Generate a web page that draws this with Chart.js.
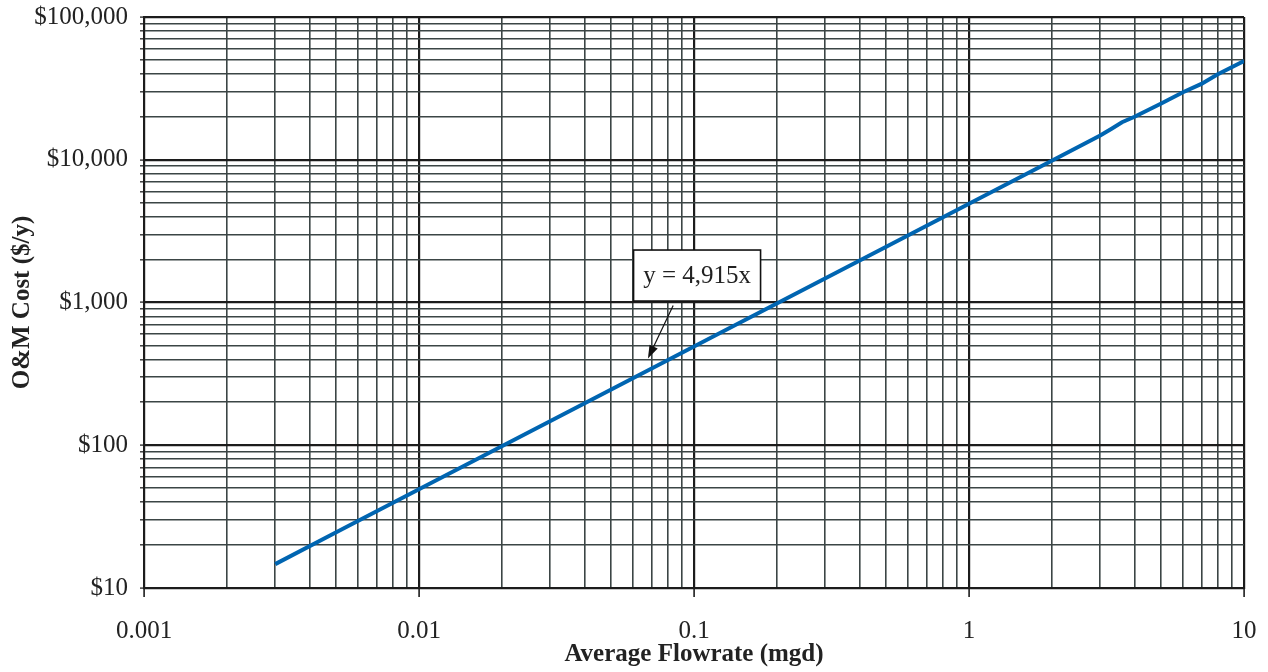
<!DOCTYPE html>
<html>
<head>
<meta charset="utf-8">
<script src="https://cdn.jsdelivr.net/npm/chart.js@4/dist/chart.umd.min.js"></script>
<style>
  body { margin: 0; background: #fff; }
  #chart { display: block; }
</style>
</head>
<body>
<canvas id="chart" width="1268" height="672"></canvas>
<script>
// Average flowrate (mgd) and O&M cost ($/y)
const flowrates = [0.003, 0.005, 0.01, 0.02, 0.05, 0.1, 0.2, 0.5, 1, 2, 3, 3.3, 3.6, 4, 5, 6, 7, 8, 10];
const omCosts = [14.7, 24.6, 49.2, 98.3, 246, 492, 983, 2458, 4915, 9830, 14800, 16500, 18300, 20000, 24800, 29700, 34000, 39500, 49150];

// Axis decades (labelled) and minor steps inside each decade
const xDecades = [0.001, 0.01, 0.1, 1, 10];
const yDecades = [10, 100, 1000, 10000, 100000];
const minorSteps = [1, 2, 3, 4, 5, 6, 7, 8, 9];

// Trend label and where its arrow points (data units)
const trendLabel = 'y = 4,915x';
const labelCenter = { x: 0.1026, y: 1545 };
const arrowFrom = { x: 0.084, y: 953 };
const arrowTo = { x: 0.068, y: 405 };

const serif = '"Liberation Serif", "Times New Roman", serif';
const minorColor = '#3b4545';
const majorColor = '#1c1c1c';

function tickValues(decades) {
    const vals = [];
    decades.forEach((d, i) => {
        if (i === decades.length - 1) { vals.push(d); return; }
        minorSteps.forEach(m => vals.push(+(d * m).toPrecision(6)));
    });
    return vals;
}

function setTicks(decades) {
    return scale => {
        scale.ticks = tickValues(decades).map(v => ({ value: v, major: decades.includes(v) }));
    };
}

const isMajor = (decades, ctx) => ctx.tick && decades.includes(ctx.tick.value);

// Text box with arrow pointing at the line
const trendNote = {
    id: 'trendNote',
    afterDraw(chart) {
        const { ctx, scales: { x, y } } = chart;
        const cx = x.getPixelForValue(labelCenter.x);
        const cy = y.getPixelForValue(labelCenter.y);
        ctx.save();
        ctx.font = '25px ' + serif;
        const w = 127, h = 51;
        ctx.fillStyle = '#fff';
        ctx.fillRect(cx - w / 2, cy - h / 2, w, h);
        ctx.strokeStyle = '#111';
        ctx.lineWidth = 1.6;
        ctx.strokeRect(cx - w / 2, cy - h / 2, w, h);
        ctx.fillStyle = '#222';
        ctx.textAlign = 'center';
        ctx.textBaseline = 'middle';
        ctx.fillText(trendLabel, cx, cy + 1);

        const x1 = x.getPixelForValue(arrowFrom.x), y1 = y.getPixelForValue(arrowFrom.y);
        const x2 = x.getPixelForValue(arrowTo.x), y2 = y.getPixelForValue(arrowTo.y);
        const ang = Math.atan2(y2 - y1, x2 - x1);
        const head = 14, spread = 0.33;
        ctx.strokeStyle = '#111';
        ctx.lineWidth = 1.2;
        ctx.beginPath();
        ctx.moveTo(x1, y1);
        ctx.lineTo(x2 - Math.cos(ang) * head * 0.8, y2 - Math.sin(ang) * head * 0.8);
        ctx.stroke();
        ctx.fillStyle = '#111';
        ctx.beginPath();
        ctx.moveTo(x2, y2);
        ctx.lineTo(x2 - head * Math.cos(ang - spread), y2 - head * Math.sin(ang - spread));
        ctx.lineTo(x2 - head * Math.cos(ang + spread), y2 - head * Math.sin(ang + spread));
        ctx.closePath();
        ctx.fill();
        ctx.restore();
    }
};

Chart.defaults.font.family = serif;
Chart.defaults.color = '#222';

new Chart(document.getElementById('chart'), {
    type: 'line',
    data: {
        datasets: [{
            data: flowrates.map((f, i) => ({ x: f, y: omCosts[i] })),
            borderColor: '#0065b1',
            borderWidth: 4,
            pointRadius: 0,
            tension: 0,
            fill: false
        }]
    },
    options: {
        responsive: false,
        animation: false,
        layout: { padding: { top: 17, right: 24, left: 0, bottom: 0 } },
        plugins: { legend: { display: false }, tooltip: { enabled: false } },
        scales: {
            x: {
                type: 'logarithmic',
                min: 0.001,
                max: 10,
                afterBuildTicks: setTicks(xDecades),
                afterFit: s => {
                    s.height = 84;
                    s.paddingLeft = 0;
                    s.paddingRight = 0;
                },
                border: { color: majorColor, width: 2 },
                grid: {
                    color: ctx => isMajor(xDecades, ctx) ? majorColor : minorColor,
                    lineWidth: ctx => isMajor(xDecades, ctx) ? 2.2 : 1.6,
                    tickLength: 9,
                    tickColor: ctx => isMajor(xDecades, ctx) ? majorColor : 'rgba(0,0,0,0)',
                    tickWidth: 1.6
                },
                ticks: {
                    autoSkip: false,
                    maxRotation: 0,
                    padding: 19,
                    font: { size: 25 },
                    callback: v => xDecades.includes(v) ? String(v) : ''
                },
                title: {
                    display: true,
                    text: 'Average Flowrate (mgd)',
                    font: { size: 25, weight: 'bold' },
                    padding: { top: 0, bottom: 2 }
                }
            },
            y: {
                type: 'logarithmic',
                min: 10,
                max: 100000,
                afterBuildTicks: setTicks(yDecades),
                afterFit: s => {
                    s.width = 144;
                    s.paddingTop = 0;
                    s.paddingBottom = 0;
                },
                border: { color: majorColor, width: 2 },
                grid: {
                    color: ctx => isMajor(yDecades, ctx) ? majorColor : minorColor,
                    lineWidth: ctx => isMajor(yDecades, ctx) ? 2.2 : 1.6,
                    tickLength: 4,
                    tickColor: '#333',
                    tickWidth: 1.4
                },
                ticks: {
                    autoSkip: false,
                    padding: 12,
                    font: { size: 25 },
                    callback: v => yDecades.includes(v) ? '$' + v.toLocaleString('en-US') : ''
                },
                title: {
                    display: true,
                    text: 'O&M Cost ($/y)',
                    font: { size: 25, weight: 'bold' },
                    padding: { top: 8, bottom: 0 }
                }
            }
        }
    },
    plugins: [trendNote]
});
</script>
</body>
</html>
